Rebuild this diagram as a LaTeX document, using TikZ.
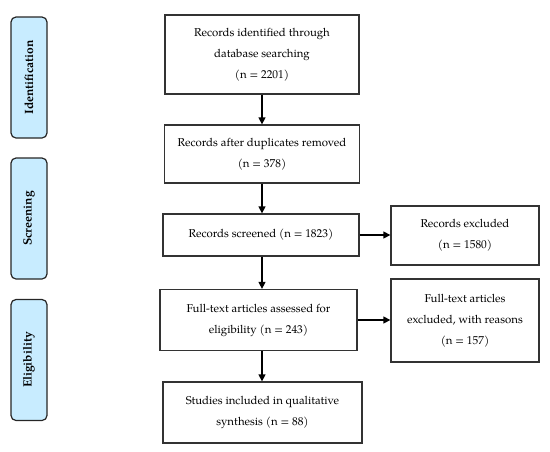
\documentclass[tikz,border=0pt]{standalone}
\usepackage{fontspec}
\setmainfont{TeX Gyre Pagella}
\usepackage{tikz}
\usetikzlibrary{arrows.meta,positioning,calc}

\definecolor{phaseblue}{RGB}{200,236,255}

\begin{document}
\begin{tikzpicture}[x=1pt, y=-1pt, >={Triangle[length=7pt,width=7pt]},
  box/.style={draw=black!80, line width=1.3pt, align=center, inner sep=2pt,
    font=\fontsize{11.4}{21}\selectfont},
  phase/.style={draw=black!85, line width=1.2pt, fill=phaseblue, rounded corners=5pt,
    rotate=90, minimum width=121pt, minimum height=36pt, inner sep=0pt,
    font=\fontsize{12}{12}\selectfont\bfseries},
  arr/.style={->, line width=1.4pt}]
  \useasboundingbox (0,0) rectangle (550,451);

  % phases
  \node[phase] (ident) at (29,77.5) {Identification};
  \node[phase] (screen) at (29,218.5) {Screening};
  \node[phase] (elig) at (29,360) {Eligibility};

  % main column
  \node[box, minimum width=194pt, minimum height=79pt] (found) at (262,54.5)
    {Records identified through\\database searching\\(n = 2201)};
  \node[box, minimum width=195pt, minimum height=58pt] (dedup) at (262,154)
    {Records after duplicates removed\\(n = 378)};
  \node[box, minimum width=196pt, minimum height=42pt] (screened) at (261,235)
    {Records screened (n = 1823)};
  \node[box, minimum width=197pt, minimum height=61pt] (fulltext) at (258.5,320)
    {Full-text articles assessed for\\eligibility (n = 243)};
  \node[box, minimum width=199pt, minimum height=61pt] (included) at (262.5,412.5)
    {Studies included in qualitative\\synthesis (n = 88)};

  % exclusions
  \node[box, minimum width=148pt, minimum height=59pt] (excl) at (465,235.5)
    {Records excluded\\(n = 1580)};
  \node[box, minimum width=148pt, minimum height=83pt] (ftexcl) at (465,320.5)
    {Full-text articles\\excluded, with reasons\\(n = 157)};

  \draw[arr] (found.south -| 262,0) -- (dedup.north -| 262,0);
  \draw[arr] (dedup.south -| 262,0) -- (screened.north -| 262,0);
  \draw[arr] (screened.south -| 262,0) -- (fulltext.north -| 262,0);
  \draw[arr] (fulltext.south -| 262,0) -- (included.north -| 262,0);
  \draw[arr] (screened.east) -- (excl.west |- screened.east);
  \draw[arr] (fulltext.east) -- (ftexcl.west |- fulltext.east);
\end{tikzpicture}
\end{document}
